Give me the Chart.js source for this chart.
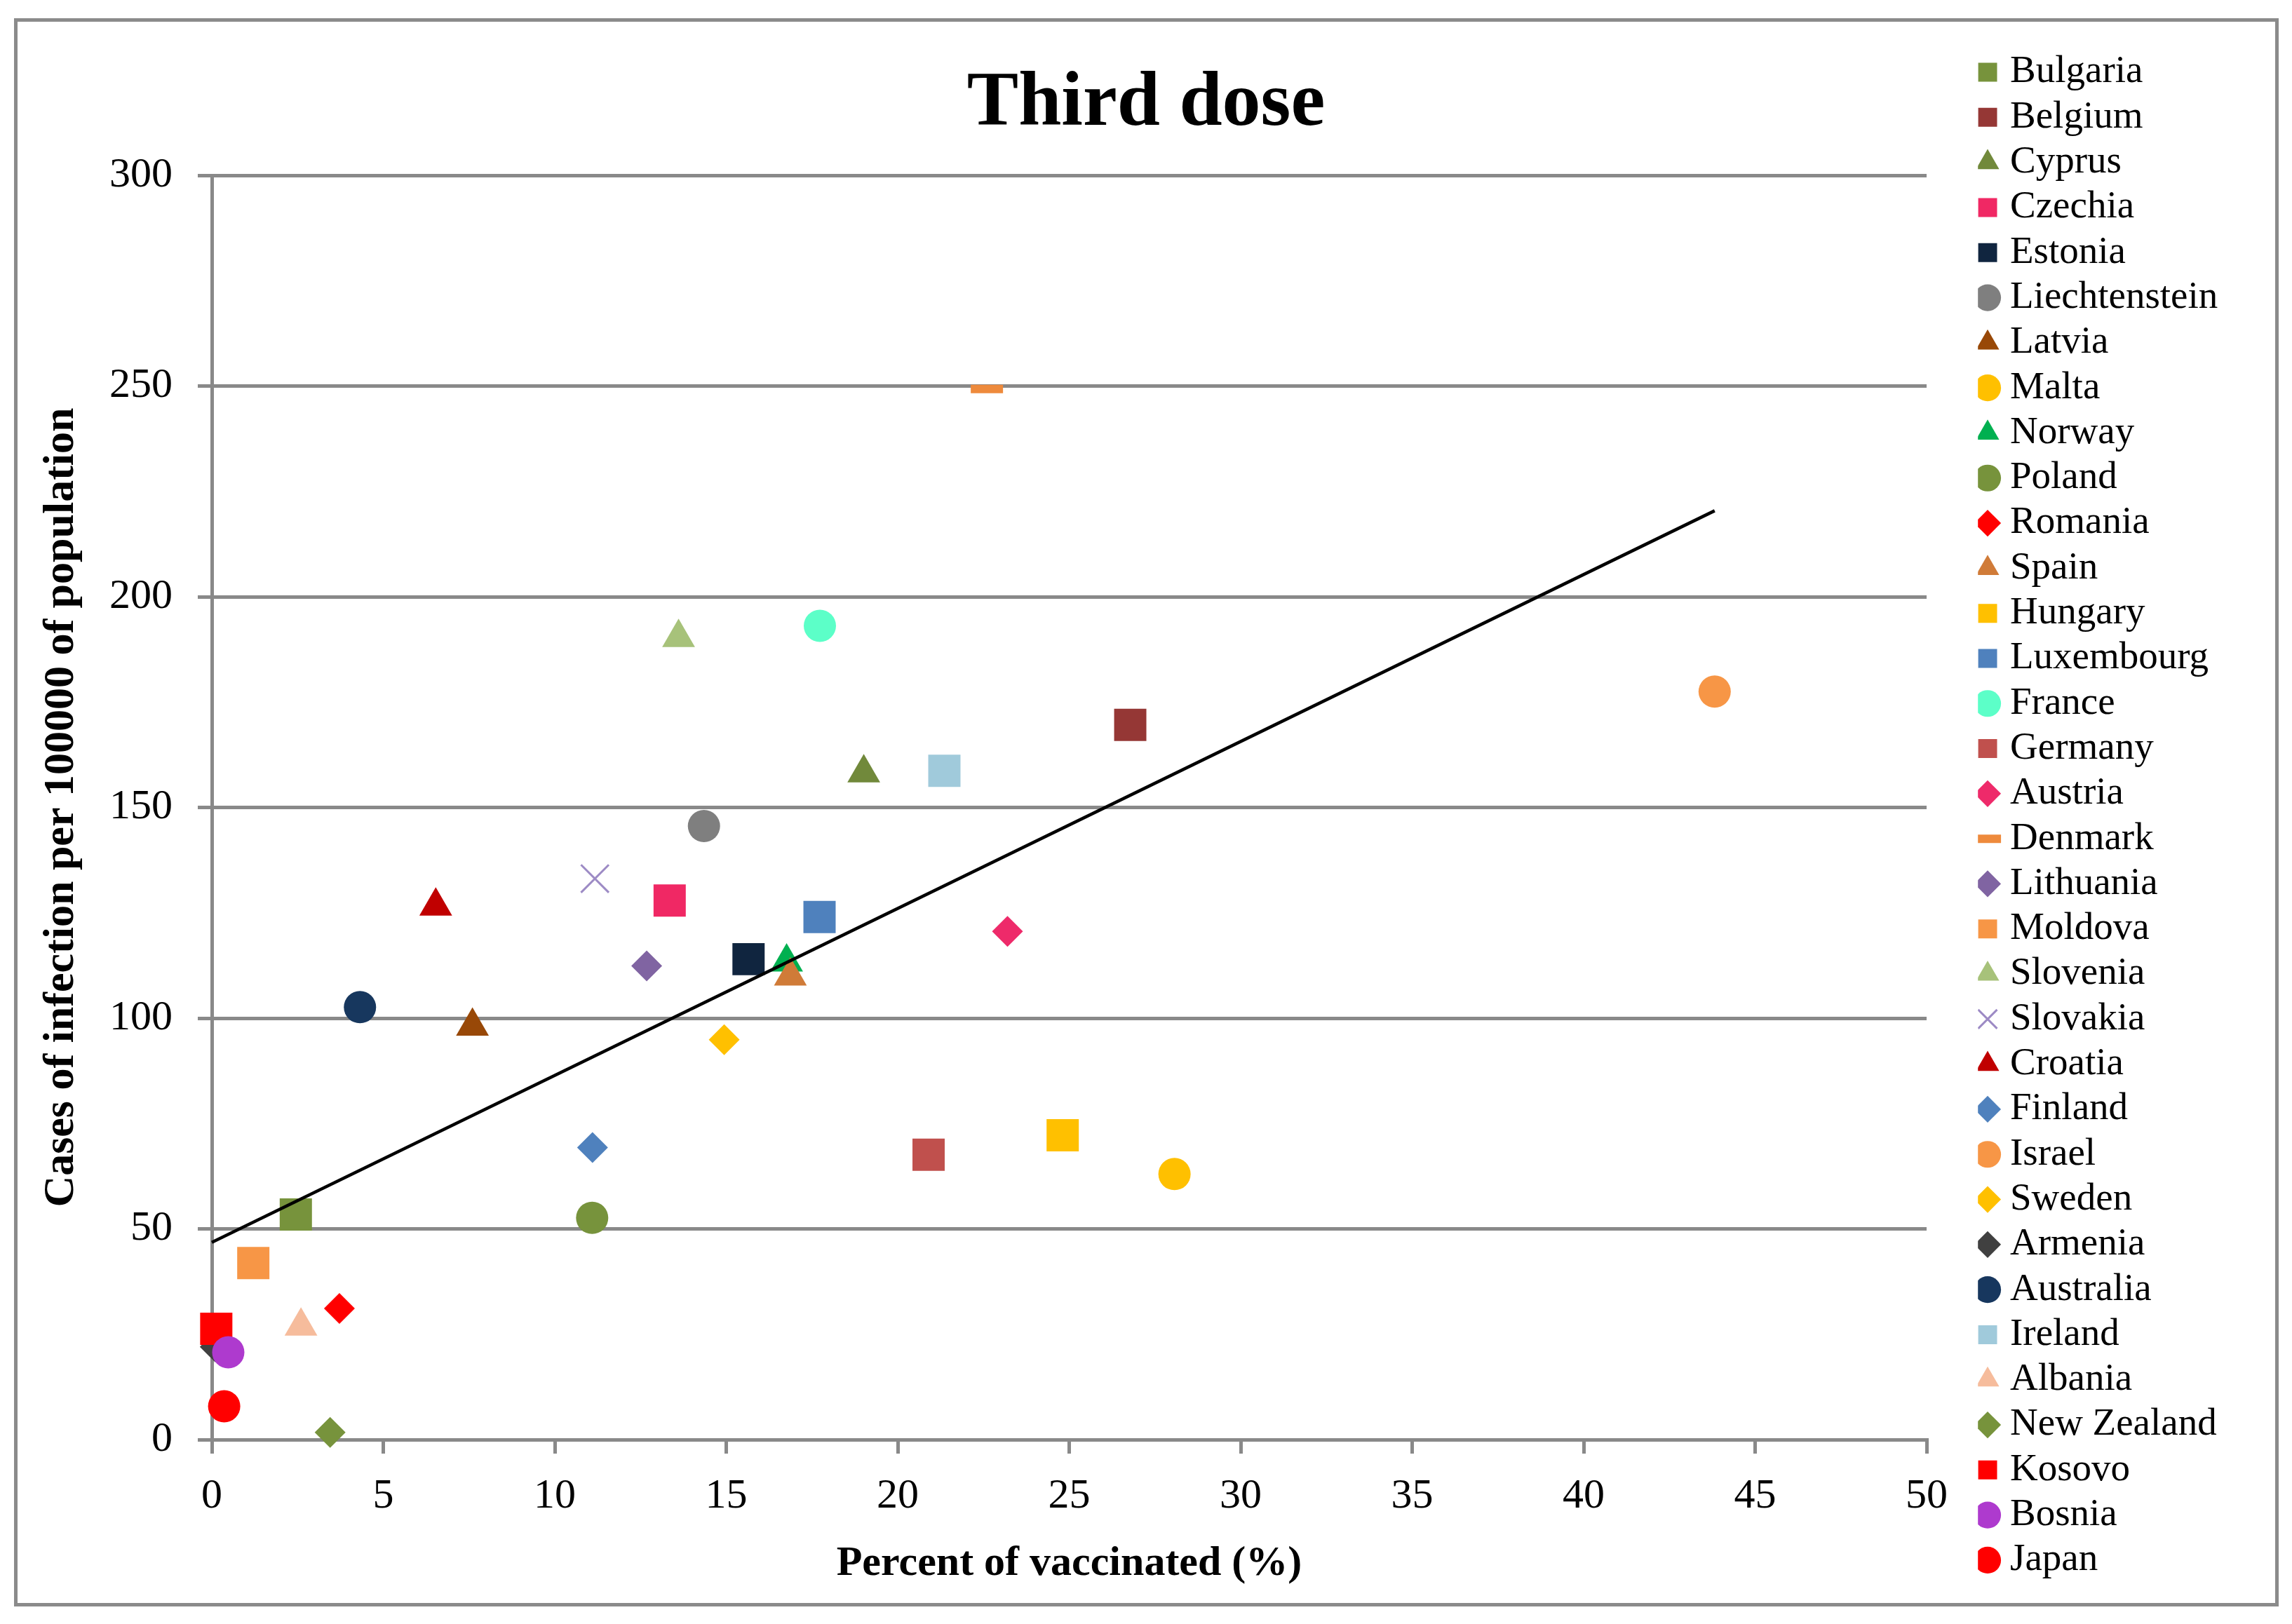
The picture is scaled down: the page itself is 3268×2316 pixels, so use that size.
<!DOCTYPE html>
<html>
<head>
<meta charset="utf-8">
<script src="https://cdn.jsdelivr.net/npm/chart.js@4.4.1/dist/chart.umd.min.js"></script>
<style>
  html, body { margin: 0; padding: 0; background: #ffffff; }
  canvas { display: block; }
</style>
</head>
<body>
<canvas id="chart" width="3268" height="2316"></canvas>
<script>
// ---------------- DATA ----------------
const countries = ['Bulgaria','Belgium','Cyprus','Czechia','Estonia','Liechtenstein','Latvia','Malta','Norway','Poland',
  'Romania','Spain','Hungary','Luxembourg','France','Germany','Austria','Denmark','Lithuania','Moldova',
  'Slovenia','Slovakia','Croatia','Finland','Israel','Sweden','Armenia','Australia','Ireland','Albania',
  'New Zealand','Kosovo','Bosnia','Japan'];

// Percent of vaccinated (third dose), %
const vaccinatedPct = [2.45, 26.78, 19.01, 13.35, 15.65, 14.35, 7.60, 28.07, 16.76, 11.09,
  3.72, 16.87, 24.81, 17.72, 17.73, 20.90, 23.20, 22.60, 12.68, 1.21,
  13.61, 11.17, 6.53, 11.10, 43.82, 14.94, 0.10, 4.32, 21.36, 2.60,
  3.45, 0.13, 0.48, 0.36];

// Cases of infection per 100000 of population
const casesPer100k = [53.4, 169.6, 158.2, 127.9, 114.0, 145.6, 98.1, 63.0, 113.3, 52.6,
  31.1, 110.0, 72.2, 124.0, 193.1, 67.6, 120.6, 249.3, 112.4, 41.9,
  190.3, 133.1, 126.6, 69.3, 177.5, 94.9, 22.0, 102.6, 158.7, 26.9,
  1.7, 26.3, 20.7, 7.9];

// Linear trend line end points
const trendX = [0, 43.82];
const trendY = [46.8, 220.4];

// Axis ranges / tick steps
const xRange = [0, 50];
const xStep = 5;
const yRange = [0, 300];
const yStep = 50;

// ---------------- STYLES ----------------
const markerShapes = ['rect','rect','triangle','rect','rect','circle','triangle','circle','triangle','circle',
  'rectRot','triangle','rect','rect','circle','rect','rectRot','line','rectRot','rect',
  'triangle','crossRot','triangle','rectRot','circle','rectRot','rectRot','circle','rect','triangle',
  'rectRot','rect','circle','circle'];

const markerColors = ['#77933C','#953735','#71893B','#F02864','#10253F','#7F7F7F','#984807','#FFC000','#00B050','#77933C',
  '#FF0000','#D07B38','#FFC000','#4F81BD','#5CFFC8','#C0504D','#EE2A6A','#EE8A3C','#8064A2','#F79646',
  '#A7C27A','#9D8BC5','#C00000','#4F81BD','#F79646','#FFC000','#404040','#17375E','#A0CADB','#F6BC9C',
  '#77933C','#FF0000','#AE3ACE','#FF0000'];

const shapeRadius = { rect: 32.5, circle: 23, triangle: 27, rectRot: 22, crossRot: 28, line: 23 };
const shapeStroke = { rect: 0, circle: 0, triangle: 0, rectRot: 0, crossRot: 3, line: 12 };

const FONT = "'Liberation Serif', 'Times New Roman', serif";
const GRID = '#898989';

// layout constants (pixels)
const PAD_LEFT = 25, PAD_RIGHT = 221, PAD_BOTTOM = 25;
const LEGEND_MAX_W = 300;
const Y_AXIS_W = 277;      // chart area left = 302
const X_AXIS_H = 238;      // chart area bottom = 2053
const LEGEND_FONT = 55, LEGEND_PAD = 9.3, LEGEND_BOX_W = 9, LEGEND_BOX_H = 27;
const LEGEND_MARKER_CX = 2834, LEGEND_SHIFT_Y = 6;

// ---------------- CHART ----------------
const datasets = countries.map((name, i) => {
  const shape = markerShapes[i];
  return {
    label: name,
    data: [{ x: vaccinatedPct[i], y: casesPer100k[i] }],
    pointStyle: shape,
    pointRadius: shapeRadius[shape],
    pointHoverRadius: shapeRadius[shape],
    pointBackgroundColor: markerColors[i],
    pointBorderColor: markerColors[i],
    backgroundColor: markerColors[i],
    borderColor: markerColors[i],
    pointBorderWidth: shapeStroke[shape],
    borderWidth: shapeStroke[shape],
    order: -i,
    clip: false
  };
});

datasets.push({
  label: 'Trend',
  type: 'scatter',
  showLine: true,
  data: trendX.map((x, i) => ({ x: x, y: trendY[i] })),
  borderColor: '#000000',
  backgroundColor: '#000000',
  borderWidth: 4.5,
  pointRadius: 0,
  pointHoverRadius: 0,
  order: -1000,
  clip: false
});

const framePlugin = {
  id: 'framePlugin',
  afterLayout(chart) {
    const lg = chart.legend;
    if (lg) {
      lg.left = LEGEND_MARKER_CX - LEGEND_PAD - LEGEND_BOX_W / 2;
      lg.right = chart.width;
      lg.top = LEGEND_SHIFT_Y;
      lg.bottom = chart.height + LEGEND_SHIFT_Y;
      lg.width = lg.right - lg.left;
      lg.height = lg.bottom - lg.top;
    }
    const tb = chart.titleBlock;
    if (tb) {
      tb.left = 0;
      tb.right = chart.width;
      tb.width = chart.width;
    }
  },
  beforeDraw(chart) {
    const ctx = chart.ctx;
    ctx.save();
    ctx.fillStyle = '#ffffff';
    ctx.fillRect(0, 0, chart.width, chart.height);
    ctx.restore();
  },
  afterDraw(chart) {
    const ctx = chart.ctx;
    ctx.save();
    ctx.strokeStyle = '#8b8b8b';
    ctx.lineWidth = 5;
    ctx.strokeRect(22.5, 28.5, 3224, 2260);
    ctx.restore();
  }
};

Chart.defaults.font.family = FONT;
Chart.defaults.color = '#000000';

new Chart(document.getElementById('chart'), {
  type: 'scatter',
  data: { datasets: datasets },
  options: {
    responsive: false,
    devicePixelRatio: 1,
    animation: false,
    events: [],
    layout: { padding: { left: PAD_LEFT, right: PAD_RIGHT, top: 0, bottom: PAD_BOTTOM } },
    plugins: {
      tooltip: { enabled: false },
      title: {
        display: true,
        text: 'Third dose',
        color: '#000000',
        font: { family: FONT, size: 110, weight: 'bold' },
        padding: { top: 84, bottom: 34 }
      },
      legend: {
        display: true,
        position: 'right',
        align: 'center',
        maxWidth: LEGEND_MAX_W,
        labels: {
          usePointStyle: true,
          boxWidth: LEGEND_BOX_W,
          boxHeight: LEGEND_BOX_H,
          padding: LEGEND_PAD,
          color: '#000000',
          font: { family: FONT, size: LEGEND_FONT },
          filter: (item) => item.datasetIndex < countries.length,
          sort: (a, b) => a.datasetIndex - b.datasetIndex
        }
      }
    },
    scales: {
      x: {
        type: 'linear',
        min: xRange[0],
        max: xRange[1],
        afterFit: (scale) => { scale.height = X_AXIS_H; },
        ticks: {
          stepSize: xStep,
          padding: 25,
          color: '#000000',
          font: { family: FONT, size: 60 },
          maxRotation: 0
        },
        grid: {
          display: true,
          drawOnChartArea: false,
          drawTicks: true,
          tickLength: 20,
          color: GRID,
          lineWidth: 5
        },
        border: { display: true, color: GRID, width: 5 },
        title: {
          display: true,
          text: 'Percent of vaccinated (%)',
          color: '#000000',
          font: { family: FONT, size: 60, weight: 'bold' },
          padding: { top: 0, bottom: 25 }
        }
      },
      y: {
        type: 'linear',
        min: yRange[0],
        max: yRange[1],
        afterFit: (scale) => { scale.width = Y_AXIS_W; },
        ticks: {
          stepSize: yStep,
          padding: 36,
          color: '#000000',
          font: { family: FONT, size: 60 }
        },
        grid: {
          display: true,
          drawOnChartArea: true,
          drawTicks: true,
          tickLength: 20,
          color: GRID,
          lineWidth: 5
        },
        border: { display: true, color: GRID, width: 5 },
        title: {
          display: true,
          text: 'Cases of infection per 100000 of population',
          color: '#000000',
          font: { family: FONT, size: 62, weight: 'bold' },
          padding: { top: 26, bottom: 0 }
        }
      }
    }
  },
  plugins: [framePlugin]
});
</script>
</body>
</html>
